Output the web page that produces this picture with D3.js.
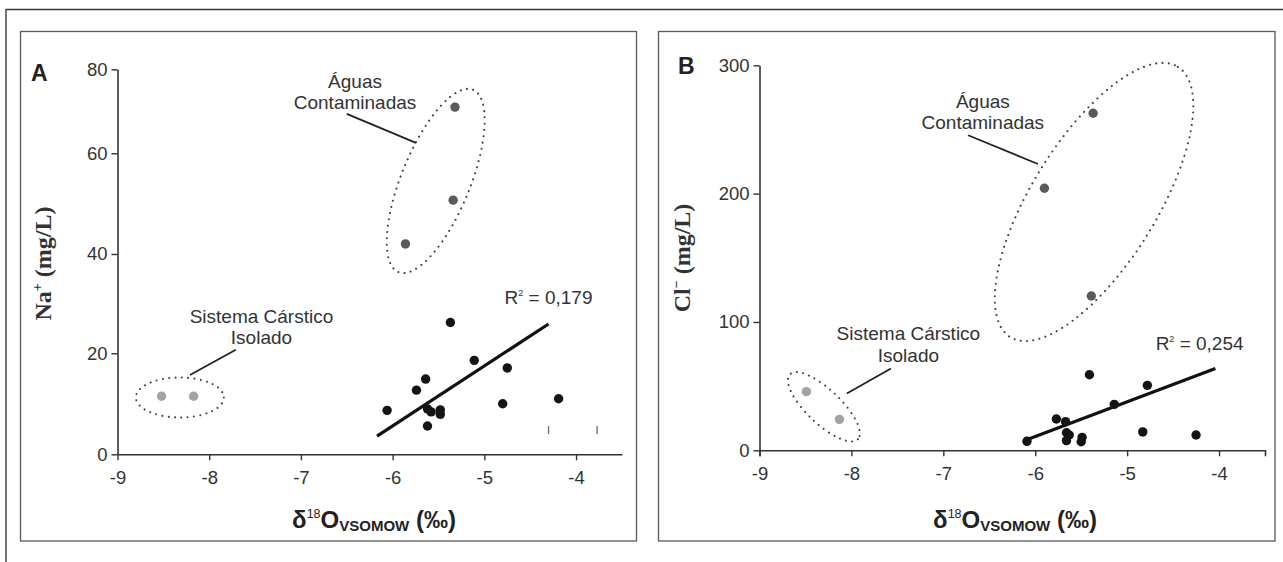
<!DOCTYPE html>
<html><head><meta charset="utf-8">
<script src="https://cdn.jsdelivr.net/npm/d3@7"></script>
<style>
html,body{margin:0;padding:0;background:#fff;}
svg{display:block;}
</style></head><body>
<svg id="chart" width="1283" height="562"></svg>
<script>
// ---------------- DATA ----------------
const xTicks  = [-9, -8, -7, -6, -5, -4];
const naTicks = [0, 20, 40, 60, 80];
const clTicks = [0, 100, 200, 300];

// Panel A : Na+ (mg/L) vs d18O
const naTrendX  = [-6.06, -5.74, -5.64, -5.62, -5.58, -5.62, -5.48, -5.48, -5.37, -5.11, -4.80, -4.75, -4.19];
const naTrendY  = [8.7, 12.7, 14.9, 9.0, 8.4, 5.6, 8.8, 7.9, 26.2, 18.6, 10.0, 17.1, 11.0];
const naContamX = [-5.32, -5.34, -5.86];
const naContamY = [71.0, 50.7, 42.0];
const naIsolX   = [-8.52, -8.17];
const naIsolY   = [11.5, 11.5];
const naFitX    = [-6.17, -4.30];
const naFitY    = [3.6, 25.9];
const naMarksX  = [-4.30, -3.77];
const naMarksY0 = [4.0, 4.0];
const naMarksY1 = [5.6, 5.6];
const naGroupCX = [-5.53, -8.32];   // contaminated, isolated ellipse centres
const naGroupCY = [54.5, 11.25];

// Panel B : Cl- (mg/L) vs d18O
const clTrendX  = [-6.09, -5.77, -5.67, -5.66, -5.63, -5.66, -5.49, -5.50, -5.41, -5.14, -4.83, -4.78, -4.25];
const clTrendY  = [7.0, 24.4, 22.3, 13.7, 11.9, 7.5, 10.1, 6.7, 58.9, 35.8, 14.3, 50.6, 11.9];
const clContamX = [-5.37, -5.90, -5.39];
const clContamY = [262.6, 204.2, 120.2];
const clIsolX   = [-8.49, -8.13];
const clIsolY   = [45.7, 24.1];
const clFitX    = [-6.10, -4.04];
const clFitY    = [8.0, 63.8];
const clGroupCX = [-5.36, -8.30];
const clGroupCY = [193.5, 33.9];

const r2Values   = ["0,179", "0,254"];
const groupNames = [["Águas", "Contaminadas"], ["Sistema Cárstico", "Isolado"]];

// ---------------- LAYOUT ----------------
const SANS = '"Liberation Sans", Arial, Helvetica, sans-serif';
const SERIF = '"Liberation Serif", "Times New Roman", serif';
const svg = d3.select("#chart");

// outer frame (top + left)
svg.append("path").attr("d", "M6,562 V9.5 H1283")
  .attr("fill", "none").attr("stroke", "#3a3a3a").attr("stroke-width", 1.4);

const panels = [
  {
    letter: "A", box: [20.5, 31.5, 616, 509.5],
    xRange: [117.5, 621.9],
    yDomain: naTicks, yRange: [454.3, 353.3, 254, 153.3, 69.3], yTicks: naTicks,
    outer: 0, letterPos: [31, 81], yTitlePos: [51, 263.5], xTitlePos: [374, 527.5],
    yMain: "Na", ySup: "+",
    trendX: naTrendX, trendY: naTrendY, contX: naContamX, contY: naContamY,
    isolX: naIsolX, isolY: naIsolY, fitX: naFitX, fitY: naFitY,
    gcx: naGroupCX, gcy: naGroupCY,
    ell: [{a: 98.5, b: 34.4, ang: -67.8}, {a: 44, b: 20, ang: 0}],
    contLabel: [-6.41, 75.5], contLead: [[-6.50, 69.4], [-5.745, 62.5]], contDy: 20.5,
    isolLabel: [-7.43, 26.1], isolLead: [[-7.71, 20.7], [-8.21, 15.7]], isolDy: 20.7,
    r2Pos: [-4.78, 30.0], r2: r2Values[0], marks: true
  },
  {
    letter: "B", box: [658.5, 31.5, 616.5, 509.5],
    xRange: [759.5, 1265],
    yDomain: [0, 300], yRange: [450.3, 65.3], yTicks: clTicks,
    outer: 6, letterPos: [678, 74], yTitlePos: [689.5, 258], xTitlePos: [1015, 527.5],
    yMain: "Cl", ySup: "−",
    trendX: clTrendX, trendY: clTrendY, contX: clContamX, contY: clContamY,
    isolX: clIsolX, isolY: clIsolY, fitX: clFitX, fitY: clFitY,
    gcx: clGroupCX, gcy: clGroupCY,
    ell: [{a: 159, b: 62.6, ang: -58.2}, {a: 47, b: 17, ang: 43.6}],
    contLabel: [-6.57, 266.5], contLead: [[-6.73, 245.5], [-5.97, 223.1]], contDy: 21,
    isolLabel: [-7.38, 85.6], isolLead: [[-7.57, 63.7], [-8.05, 44.3]], isolDy: 22,
    r2Pos: [-4.69, 78.4], r2: r2Values[1], marks: false
  }
];

panels.forEach(p => {
  const g = svg.append("g");
  const x = d3.scaleLinear().domain([-9, -3.5]).range(p.xRange);
  const y = d3.scaleLinear().domain(p.yDomain).range(p.yRange);

  // panel box
  g.append("rect").attr("x", p.box[0]).attr("y", p.box[1])
    .attr("width", p.box[2]).attr("height", p.box[3])
    .attr("fill", "none").attr("stroke", "#5a5a5a").attr("stroke-width", 1.3);

  // axes
  const xa = g.append("g").attr("transform", `translate(0,${y(0)})`)
    .call(d3.axisBottom(x).tickValues(xTicks).tickSize(6).tickSizeOuter(p.outer)
      .tickPadding(11).tickFormat(d => String(d)));
  const ya = g.append("g").attr("transform", `translate(${x(-9)},0)`)
    .call(d3.axisLeft(y).tickValues(p.yTicks).tickSize(6).tickSizeOuter(0)
      .tickPadding(4).tickFormat(d => String(d)));
  [xa, ya].forEach(a => {
    a.attr("font-family", null).attr("font-size", null);
    a.select(".domain").attr("stroke", "#333").attr("stroke-width", 1.6);
    a.selectAll(".tick line").attr("stroke", "#333").attr("stroke-width", 1.4);
    a.selectAll(".tick text").attr("fill", "#333").style("font-family", SANS).style("font-size", "18.5px");
  });

  // panel letter
  g.append("text").attr("x", p.letterPos[0]).attr("y", p.letterPos[1])
    .style("font-family", SANS).style("font-size", "23px").style("font-weight", "bold")
    .attr("fill", "#222").text(p.letter);

  // y title
  const yt = g.append("text")
    .attr("transform", `translate(${p.yTitlePos[0]},${p.yTitlePos[1]}) rotate(-90)`)
    .attr("text-anchor", "middle")
    .style("font-family", SERIF).style("font-weight", "bold").style("font-size", "24px")
    .attr("fill", "#333");
  yt.append("tspan").text(p.yMain);
  yt.append("tspan").attr("dy", -9).style("font-size", "14px").text(p.ySup);
  yt.append("tspan").attr("dy", 9).text(" (mg/L)");

  // x title
  const xt = g.append("text").attr("x", p.xTitlePos[0]).attr("y", p.xTitlePos[1])
    .attr("text-anchor", "middle")
    .style("font-family", SANS).style("font-weight", "bold").style("font-size", "24px")
    .attr("fill", "#222");
  xt.append("tspan").text("δ");
  xt.append("tspan").attr("dy", -10).style("font-size", "12.5px").style("font-weight", "normal").text("18");
  xt.append("tspan").attr("dy", 10).text("O");
  xt.append("tspan").attr("dy", 3).style("font-size", "15px").text("VSOMOW");
  xt.append("tspan").attr("dy", -3).text(" (‰)");

  // dotted group ellipses
  p.ell.forEach((e, i) => {
    g.append("ellipse").attr("cx", 0).attr("cy", 0).attr("rx", e.a).attr("ry", e.b)
      .attr("transform", `translate(${x(p.gcx[i])},${y(p.gcy[i])}) rotate(${e.ang})`)
      .attr("fill", "none").attr("stroke", "#444").attr("stroke-width", 2.1)
      .attr("stroke-linecap", "round").attr("stroke-dasharray", "0.01 6.3");
  });

  // leader lines
  [p.contLead, p.isolLead].forEach(l => {
    g.append("line").attr("x1", x(l[0][0])).attr("y1", y(l[0][1]))
      .attr("x2", x(l[1][0])).attr("y2", y(l[1][1]))
      .attr("stroke", "#222").attr("stroke-width", 1.8);
  });

  // group labels
  [[p.contLabel, groupNames[0], p.contDy], [p.isolLabel, groupNames[1], p.isolDy]].forEach(([pos, lines, dy]) => {
    const t = g.append("text").attr("text-anchor", "middle")
      .style("font-family", SANS).style("font-size", "19px").attr("fill", "#333");
    lines.forEach((s, k) => {
      t.append("tspan").attr("x", x(pos[0])).attr("y", y(pos[1]) + k * dy).text(s);
    });
  });

  // regression line
  g.append("line").attr("x1", x(p.fitX[0])).attr("y1", y(p.fitY[0]))
    .attr("x2", x(p.fitX[1])).attr("y2", y(p.fitY[1]))
    .attr("stroke", "#111").attr("stroke-width", 3.2);

  // R2 label
  const rt = g.append("text").attr("x", x(p.r2Pos[0])).attr("y", y(p.r2Pos[1]))
    .style("font-family", SANS).style("font-size", "19px").attr("fill", "#333");
  rt.append("tspan").text("R");
  rt.append("tspan").attr("dy", -8).style("font-size", "9px").text("2");
  rt.append("tspan").attr("dy", 8).text(" = " + p.r2);

  // stray marks (panel A)
  if (p.marks) {
    naMarksX.forEach((mx, i) => {
      g.append("line").attr("x1", x(mx)).attr("x2", x(mx))
        .attr("y1", y(naMarksY0[i])).attr("y2", y(naMarksY1[i]))
        .attr("stroke", "#777").attr("stroke-width", 1.4);
    });
  }

  // points
  const dots = (xs, ys, col) => {
    g.selectAll(null).data(xs.map((v, i) => [v, ys[i]])).enter().append("circle")
      .attr("cx", d => x(d[0])).attr("cy", d => y(d[1])).attr("r", 4.7).attr("fill", col);
  };
  dots(p.isolX, p.isolY, "#a3a3a3");
  dots(p.contX, p.contY, "#5a5a5a");
  dots(p.trendX, p.trendY, "#141414");
});
</script>
</body></html>
